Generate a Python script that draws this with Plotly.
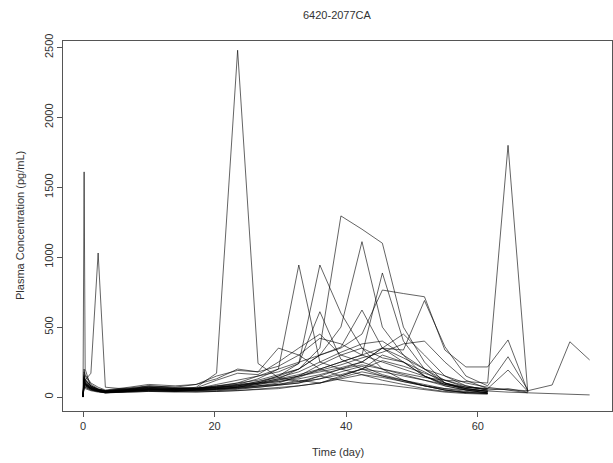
import plotly.graph_objects as go

# Sampling times (day)
times = [0, 0.04, 0.17, 0.33, 1.2, 2.3, 3.4, 7, 10, 14, 17.2, 20.3, 23.5, 26.6, 29.7,
         32.8, 36.0, 39.2, 42.4, 45.5, 48.7, 51.9, 55.0, 58.2, 61.5, 64.6, 67.6, 71.3, 74.0, 77.0]

s01 = [0, 40, 110, 90, 60, 45, 35, 40, 50, 55, 70, 170, 2480, 240, 140, 110, 150, 120, 100, 90, 70, 50, 35, 25, 20]
s02 = [0, 300, 1610, 200, 70, 45, 35, 50, 60, 45, 50, 60, 70, 80, 90, 120, 100, 140, 180, 150, 110, 80, 50, 30, 25]
s03 = [0, 50, 90, 120, 170, 1030, 70, 55, 65, 50, 45, 55, 60, 70, 85, 100, 130, 180, 220, 160, 120, 90, 60, 40, 30]
s04 = [0, 60, 150, 120, 80, 55, 45, 60, 70, 60, 60, 80, 90, 100, 110, 130, 160, 200, 230, 200, 170, 140, 120, 110, 100, 1800, 36]
s05 = [0, 30, 80, 70, 50, 40, 30, 35, 40, 40, 45, 55, 70, 90, 120, 150, 180, 210, 250, 200, 160, 120, 90, 70, 60, 55, 45, 86, 395, 265]
s06 = [0, 40, 100, 80, 60, 45, 35, 40, 45, 40, 35, 40, 45, 50, 60, 80, 100, 130, 160, 140, 110, 80, 60, 50, 40, 35, 30, 25, 20, 15]
s07 = [0, 50, 130, 100, 70, 50, 40, 55, 70, 60, 60, 70, 90, 130, 200, 944, 250, 200, 160, 120, 90, 60, 40, 30, 25]
s08 = [0, 70, 160, 130, 80, 55, 45, 65, 80, 70, 65, 75, 100, 150, 180, 240, 944, 600, 350, 200, 120, 80, 50, 30]
s09 = [0, 40, 120, 100, 60, 45, 35, 45, 55, 50, 55, 70, 80, 110, 150, 200, 350, 1295, 1200, 1100, 500, 250, 100, 50, 30]
s10 = [0, 50, 140, 110, 70, 50, 40, 50, 60, 55, 60, 80, 100, 120, 160, 200, 300, 500, 1111, 500, 300, 150, 80, 50, 30]
s11 = [0, 30, 90, 80, 55, 40, 30, 40, 50, 45, 50, 60, 70, 90, 110, 140, 200, 250, 300, 887, 400, 200, 100, 60, 40]
s12 = [0, 60, 180, 150, 90, 60, 45, 55, 70, 60, 60, 90, 120, 150, 200, 250, 300, 350, 450, 765, 740, 717, 336, 215, 215, 408, 40]
s13 = [0, 50, 110, 90, 60, 45, 35, 45, 55, 50, 55, 65, 80, 100, 130, 160, 200, 250, 300, 350, 336, 690, 360, 150, 80, 288, 50]
s14 = [0, 40, 100, 90, 60, 45, 35, 45, 50, 45, 50, 60, 70, 100, 150, 240, 610, 270, 200, 150, 120, 80, 50, 35, 25]
s15 = [0, 50, 120, 100, 70, 50, 40, 50, 60, 55, 60, 70, 80, 100, 130, 200, 300, 357, 622, 350, 250, 150, 90, 60, 40]
s16 = [0, 80, 200, 160, 100, 70, 50, 70, 90, 80, 90, 150, 190, 180, 220, 300, 420, 380, 300, 250, 200, 150, 100, 70, 60, 193, 40]
s17 = [0, 30, 70, 60, 45, 35, 30, 35, 40, 35, 35, 40, 45, 55, 65, 80, 100, 150, 200, 180, 150, 120, 80, 50, 30]
s18 = [0, 40, 90, 80, 55, 40, 35, 45, 55, 50, 45, 50, 60, 80, 100, 150, 230, 300, 350, 280, 250, 180, 100, 60, 40]
s19 = [0, 60, 140, 120, 80, 55, 40, 50, 65, 60, 65, 120, 170, 160, 250, 350, 450, 300, 250, 350, 450, 300, 150, 80, 50, 60, 35]
s20 = [0, 35, 80, 70, 50, 40, 30, 40, 50, 50, 50, 55, 65, 75, 90, 110, 130, 160, 200, 260, 220, 170, 120, 80, 50]
s21 = [0, 45, 120, 100, 65, 50, 40, 55, 80, 70, 90, 130, 200, 180, 350, 300, 200, 150, 200, 300, 250, 150, 90, 60, 40]
s22 = [0, 55, 130, 110, 75, 55, 45, 60, 75, 65, 60, 70, 85, 110, 140, 180, 250, 320, 380, 400, 300, 200, 120, 70, 50]
s23 = [0, 40, 100, 90, 60, 45, 35, 40, 45, 40, 40, 45, 55, 70, 90, 100, 150, 200, 250, 350, 280, 200, 150, 100, 70, 50, 30]
s24 = [0, 50, 110, 95, 65, 50, 40, 50, 60, 55, 55, 65, 75, 95, 120, 150, 190, 230, 280, 320, 380, 400, 250, 120, 60]

subjects = [s01, s02, s03, s04, s05, s06, s07, s08, s09, s10, s11, s12,
            s13, s14, s15, s16, s17, s18, s19, s20, s21, s22, s23, s24]

x_ticks = [0, 20, 40, 60]
y_ticks = [0, 500, 1000, 1500, 2000, 2500]

title_text = "6420-2077CA"
x_title = "Time (day)"
y_title = "Plasma Concentration (pg/mL)"

FONT = "Liberation Sans, Arial, Helvetica, sans-serif"

fig = go.Figure()
for vals in subjects:
    fig.add_trace(go.Scatter(
        x=times[:len(vals)], y=vals, mode="lines",
        line=dict(color="rgba(0,0,0,0.72)", width=0.85),
        showlegend=False, hoverinfo="skip"))

fig.update_layout(
    width=613, height=463,
    margin=dict(l=63, r=1, t=41, b=52),
    paper_bgcolor="white", plot_bgcolor="white",
    font=dict(family=FONT, size=11, color="#333"),
    xaxis=dict(range=[-3.04, 80.4], tickvals=x_ticks, ticks="outside", ticklen=5,
               tickcolor="#555", showline=True, linecolor="#555", linewidth=1,
               mirror=True, showgrid=False, zeroline=False,
               tickfont=dict(size=11, color="#333")),
    yaxis=dict(range=[-100, 2546], tickvals=y_ticks, ticks="outside", ticklen=5,
               tickcolor="#555", showline=True, linecolor="#555", linewidth=1,
               mirror=True, showgrid=False, zeroline=False, tickangle=-90,
               tickfont=dict(size=11, color="#333")),
    annotations=[
        dict(text=title_text, x=0.5, y=1, xref="paper", yref="paper", yshift=26,
             yanchor="middle", showarrow=False, font=dict(size=11, color="#333")),
        dict(text=x_title, xref="paper", yref="paper", x=0.5, y=0,
             yanchor="middle", showarrow=False, yshift=-41, font=dict(size=11, color="#333")),
        dict(text=y_title, xref="paper", yref="paper", x=0, y=0.5,
             xanchor="center", showarrow=False, textangle=-90, xshift=-43,
             font=dict(size=11, color="#333")),
    ],
)

fig.write_html("out.html")
